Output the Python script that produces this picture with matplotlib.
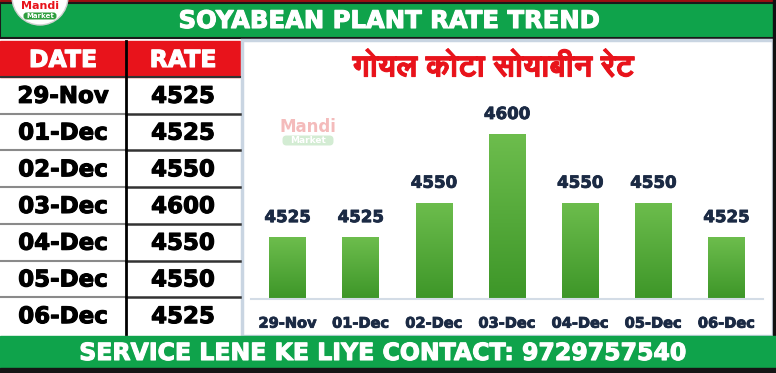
import numpy as np
import matplotlib
matplotlib.use("Agg")
import matplotlib.pyplot as plt
import matplotlib.patheffects as pe
from matplotlib.patches import Rectangle, Circle, FancyBboxPatch
from matplotlib import font_manager
from matplotlib.ft2font import FT2Font

# data
dates = ['29-Nov', '01-Dec', '02-Dec', '03-Dec', '04-Dec', '05-Dec', '06-Dec']
rates = [4525, 4525, 4550, 4600, 4550, 4550, 4525]

title_top = 'SOYABEAN PLANT RATE TREND'
title_chart = 'गोयल कोटा सोयाबीन रेट'
footer = 'SERVICE LENE KE LIYE CONTACT: 9729757540'

GREEN = '#0fa34b'
RED = '#e8131b'
NAVY = '#1b2a44'


def find_font(ch):
    # look for an installed font that has the glyph, bold ones first
    files = sorted(font_manager.findSystemFonts(),
                   key=lambda f: (0 if 'bold' in f.lower() else 1, f))
    for f in files:
        try:
            if ord(ch) in FT2Font(f).get_charmap():
                return f
        except Exception:
            pass
    return None


deva = find_font('ग')
deva_prop = font_manager.FontProperties(fname=deva) if deva else font_manager.FontProperties(family='DejaVu Sans')


def heavy(c, w=0.8):
    return [pe.withStroke(linewidth=w, foreground=c)]


plt.rcParams['font.family'] = 'DejaVu Sans'
plt.rcParams['font.weight'] = 'bold'

fig = plt.figure(figsize=(7.76, 3.73), dpi=100)
fig.patch.set_facecolor('white')

# background axes in pixel coords (y down)
bg = fig.add_axes([0, 0, 1, 1])
bg.set_xlim(0, 776)
bg.set_ylim(373, 0)
bg.axis('off')

# top banner
bg.add_patch(Rectangle((0, 0), 776, 4, color='#9b1010'))
bg.add_patch(Rectangle((0, 3), 776, 35, fc=GREEN, ec='#1a1a1a', lw=1.5))
bg.text(389, 21, title_top, color='white', fontsize=17.5, fontweight='bold',
        ha='center', va='center', path_effects=heavy('white'))

# logo top-left
bg.add_patch(Circle((40, -3), 28, fc='white', ec='#d0d0d0', lw=1, zorder=3))
bg.text(40, 6, 'Mandi', color=RED, fontsize=8, fontweight='bold',
        ha='center', va='center', zorder=4)
bg.add_patch(FancyBboxPatch((24, 13), 32, 6, boxstyle='round,pad=0.5,rounding_size=3',
                            fc='#2e9e3e', ec='none', zorder=4))
bg.text(40, 16.5, 'Market', color='white', fontsize=5, fontweight='bold',
        ha='center', va='center', zorder=5)

# table
col_split = 126
tab_right = 240
hdr_top, hdr_bot = 41, 77
row_h = (334 - hdr_bot) / len(dates)
bg.add_patch(Rectangle((0, hdr_top), tab_right, hdr_bot - hdr_top, color=RED))
bg.text(col_split / 2, (hdr_top + hdr_bot) / 2 + 1, 'DATE', color='white', fontsize=17,
        fontweight='bold', ha='center', va='center', path_effects=heavy('white'))
bg.text((col_split + tab_right) / 2, (hdr_top + hdr_bot) / 2 + 1, 'RATE', color='white',
        fontsize=17, fontweight='bold', ha='center', va='center',
        path_effects=heavy('white'))
for i, (d, r) in enumerate(zip(dates, rates)):
    y0 = hdr_bot + i * row_h
    yc = y0 + row_h / 2 + 1
    bg.text(col_split / 2, yc, d, color='black', fontsize=16.5, fontweight='bold',
            ha='center', va='center', path_effects=heavy('black'))
    bg.text((col_split + tab_right) / 2, yc, str(r), color='black', fontsize=16.5,
            fontweight='bold', ha='center', va='center', path_effects=heavy('black'))
    if i > 0:
        bg.plot([0, col_split], [y0, y0], color='#8a8a8a', lw=1.5)
        bg.plot([col_split, tab_right], [y0, y0], color='#333333', lw=1.8)
bg.plot([0, tab_right], [hdr_bot, hdr_bot], color='#333333', lw=1.5)
bg.plot([col_split, col_split], [hdr_top, 334], color='black', lw=2)

# chart panel
bg.add_patch(Rectangle((242, 40), 531, 296, fc='white', ec='#c9d5e2', lw=2.5))
bg.add_patch(Rectangle((773, 0), 3, 373, color='#111111'))
bg.text(494, 68, title_chart, color=RED, fontproperties=deva_prop, fontsize=22,
        ha='center', va='center', path_effects=heavy(RED, 0.7))

# watermark
bg.text(308, 127, 'Mandi', color='#f3b4b4', fontsize=12, fontweight='bold',
        ha='center', va='center', alpha=0.9)
bg.add_patch(FancyBboxPatch((283, 136), 50, 9, boxstyle='round,pad=0.5,rounding_size=4',
                            fc='#c8e8c8', ec='none', alpha=0.8))
bg.text(308, 140.5, 'Market', color='white', fontsize=6.5, fontweight='bold',
        ha='center', va='center')

# footer
bg.add_patch(Rectangle((0, 336), 776, 32, color=GREEN))
bg.add_patch(Rectangle((0, 368), 776, 5, color='#151515'))
bg.text(383, 353, footer, color='white', fontsize=17, fontweight='bold',
        ha='center', va='center', path_effects=heavy('white'))

# bar chart
ax = fig.add_axes([251 / 776, (373 - 299) / 373, 512 / 776, (299 - 90) / 373])
ax.set_facecolor('none')
x = np.arange(len(dates))
ylo, yhi = 4480, 4632
bars = ax.bar(x, rates, width=0.5, color='none', zorder=2)
grad = np.linspace(0, 1, 256).reshape(-1, 1)
cmap = matplotlib.colors.LinearSegmentedColormap.from_list('g', ['#3d9628', '#6dbd4d'])
for b in bars:
    im = ax.imshow(grad, extent=[b.get_x(), b.get_x() + b.get_width(), ylo, b.get_height()],
                   origin='lower', cmap=cmap, aspect='auto', zorder=2)
    im.set_clip_path(b)
for xi, r in zip(x, rates):
    ax.text(xi, r + 8, str(r), color=NAVY, fontsize=12, fontweight='bold',
            ha='center', va='bottom', path_effects=heavy(NAVY, 0.6))
ax.set_xlim(-0.5, len(dates) - 0.5)
ax.set_ylim(ylo, yhi)
ax.set_xticks(x)
ax.set_xticklabels(dates, color=NAVY, fontsize=10.5, fontweight='bold')
for t in ax.get_xticklabels():
    t.set_path_effects(heavy(NAVY, 0.6))
ax.tick_params(axis='x', length=0, pad=12)
ax.set_yticks([])
for s in ['top', 'right', 'left']:
    ax.spines[s].set_visible(False)
ax.spines['bottom'].set_color('#d3dce6')
ax.spines['bottom'].set_linewidth(1.5)

fig.savefig('out.png', dpi=100, facecolor='white')
